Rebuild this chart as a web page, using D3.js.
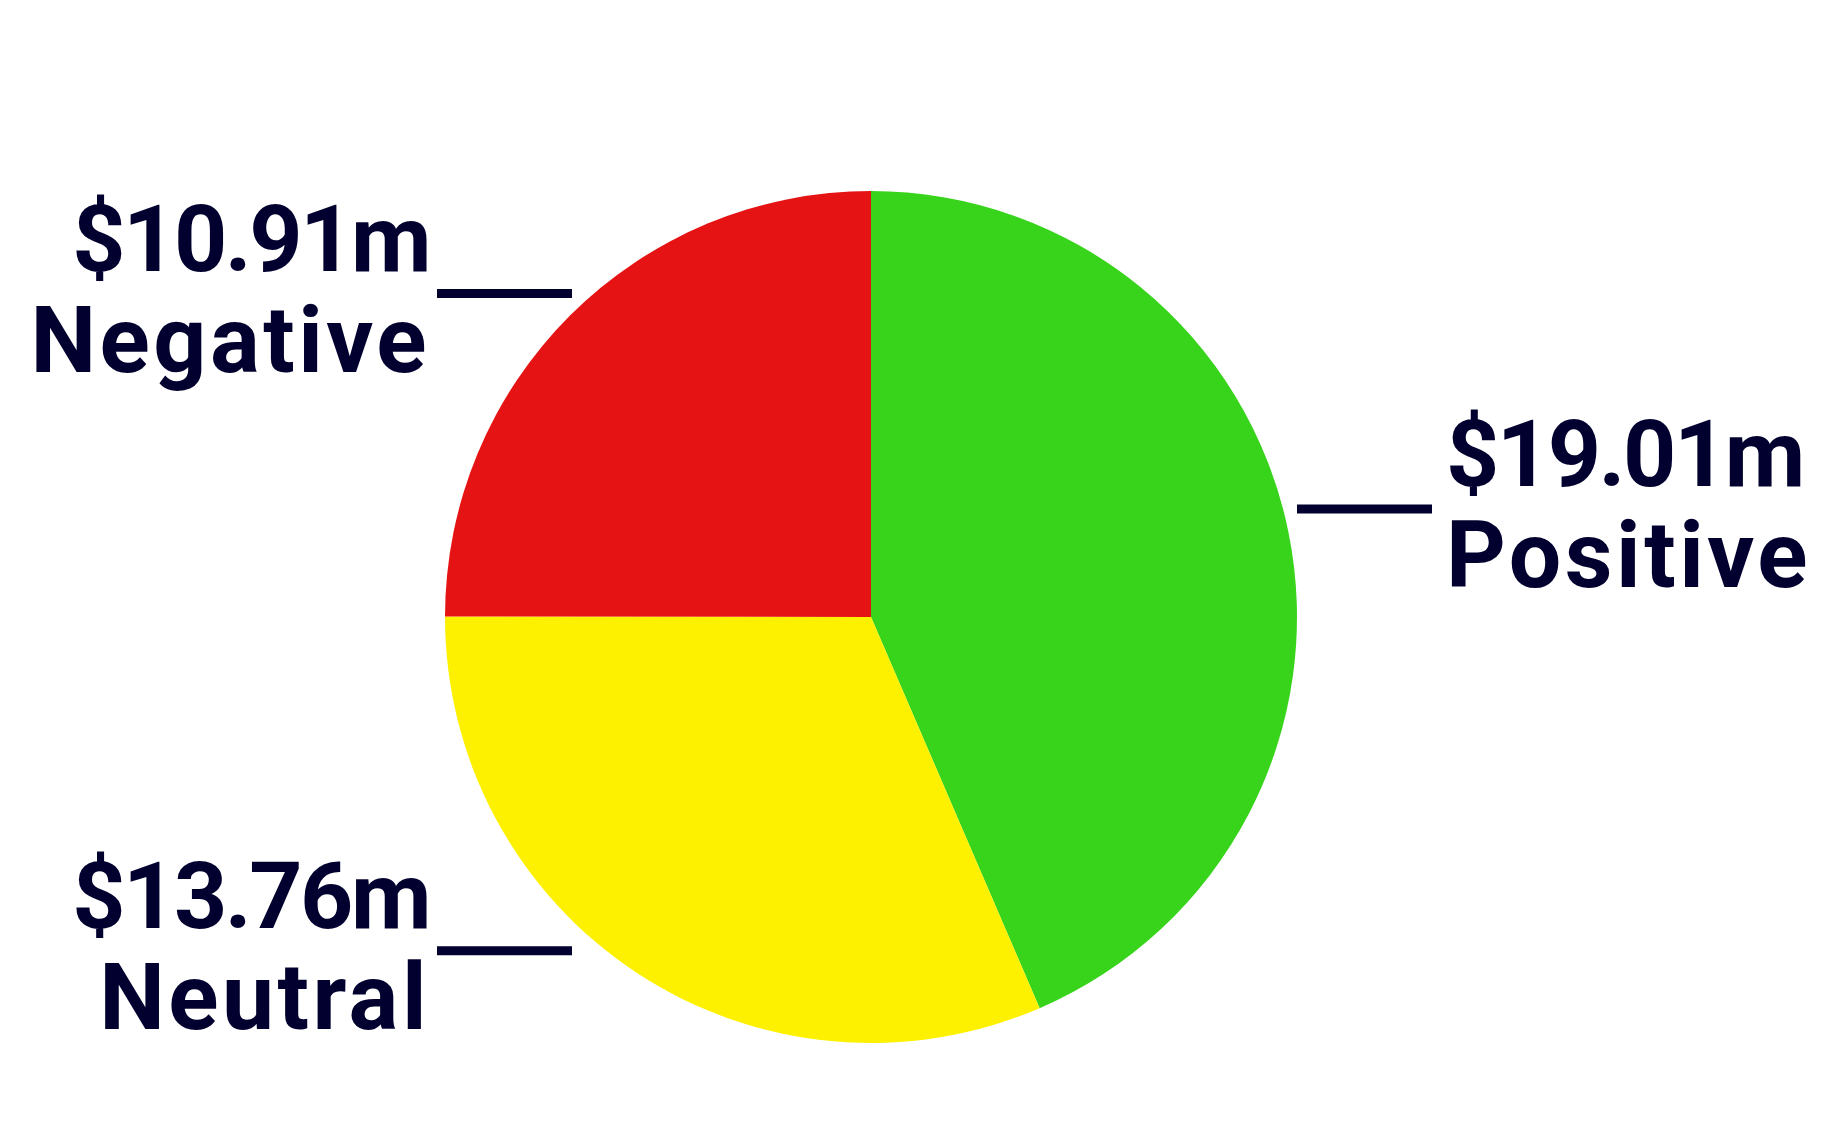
<!DOCTYPE html>
<html>
<head>
<meta charset="utf-8">
<script src="https://cdn.jsdelivr.net/npm/d3@7"></script>
<style>
  html, body { margin: 0; padding: 0; background: #ffffff; }
  text { font-family: Roboto, "Noto Sans", sans-serif; font-weight: 700; fill: #02002e; }
</style>
</head>
<body>
<script>
// sentiment split, in $m
var categories = ['Positive', 'Neutral', 'Negative'];
var values = [19.01, 13.76, 10.91];
var valueLabels = ['$19.01m', '$13.76m', '$10.91m'];
var colors = ['#38d41b', '#fdf100', '#e51313'];

var width = 1834;
var height = 1130;
var cx = 871;
var cy = 617;
var radius = 426;

var svg = d3.select('body').append('svg')
    .attr('width', width)
    .attr('height', height);

var data = categories.map(function (c, i) {
    return { name: c, value: values[i], label: valueLabels[i], color: colors[i] };
});

var pie = d3.pie()
    .sort(null)
    .value(function (d) { return d.value; });

var arc = d3.arc()
    .innerRadius(0)
    .outerRadius(radius);

var arcs = pie(data);

var g = svg.append('g')
    .attr('transform', 'translate(' + cx + ',' + cy + ')');

g.selectAll('path')
    .data(arcs)
    .enter().append('path')
    .attr('d', arc)
    .attr('fill', function (d) { return d.data.color; });

function isRight(d) {
    return Math.sin((d.startAngle + d.endAngle) / 2) > 0;
}

// labels: a short rule beside the pie, value above, name below
var labels = g.selectAll('g.label')
    .data(arcs)
    .enter().append('g')
    .attr('class', 'label')
    .attr('transform', function (d) {
        var mid = (d.startAngle + d.endAngle) / 2;
        var y = -Math.cos(mid) * radius;
        return 'translate(0,' + y + ')';
    });

labels.append('line')
    .attr('x1', function (d) { return isRight(d) ? radius : -radius - 8; })
    .attr('x2', function (d) { return isRight(d) ? radius + 135 : -radius + 127; })
    .attr('y1', -22)
    .attr('y2', -22)
    .attr('stroke', '#02002e')
    .attr('stroke-width', 9);

function textAnchor(d) { return isRight(d) ? 'start' : 'end'; }

labels.append('text')
    .attr('x', function (d) { return isRight(d) ? radius + 149 : -radius - 16; })
    .attr('y', -45)
    .attr('text-anchor', textAnchor)
    .style('font-size', '93px')
    .style('letter-spacing', '-2.5px')
    .text(function (d) { return d.data.label; });

labels.append('text')
    .attr('x', function (d) { return isRight(d) ? radius + 149 : -radius - 15; })
    .attr('y', 56)
    .attr('text-anchor', textAnchor)
    .style('font-size', '93px')
    .style('letter-spacing', '3.5px')
    .text(function (d) { return d.data.name; });
</script>
</body>
</html>
